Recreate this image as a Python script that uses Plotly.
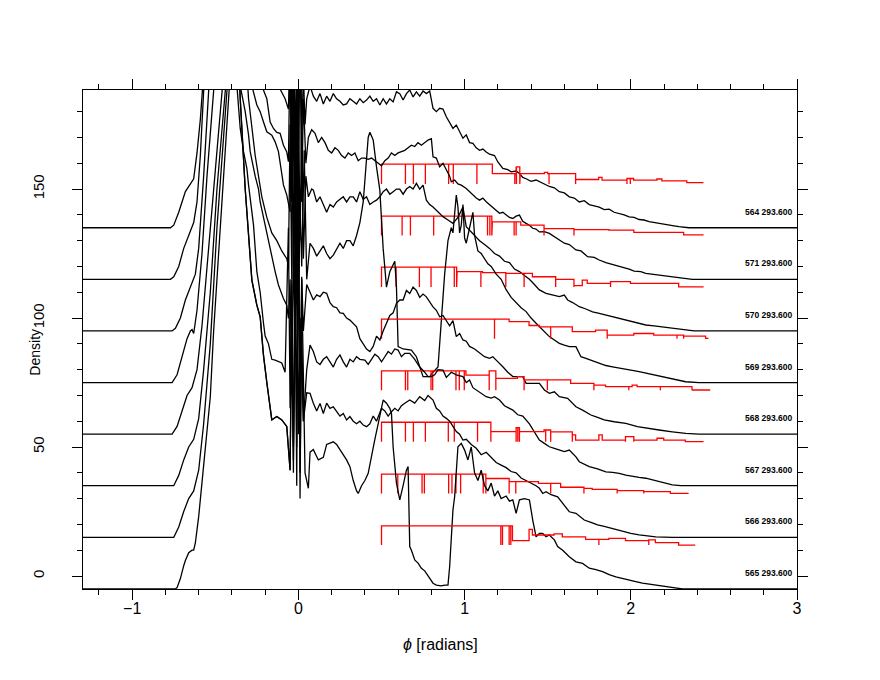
import plotly.graph_objects as go

# ---------------- data ----------------
RUNS = ["564", "571", "570", "569", "568", "567", "566", "565"]
OFFSETS = [135, 115, 95, 75, 55, 35, 15, -5]
TEMP_LABEL = "293.600"

X_TICKS = [-1, 0, 1, 2, 3]
X_TICKTEXT = ["\u22121", "0", "1", "2", "3"]
Y_TICKS = [0, 50, 100, 150]

# density of phi for each run (unshifted values); pairs of (phi, density)
DENS_564 = [(-1.30,0),(-0.77,0),(-0.75,1),(-0.72,6),(-0.68,14),(-0.66,16),(-0.63,19),(-0.61,29),(-0.59,42),(-0.57,60),(-0.52,110),(-0.45,190),(-0.40,230),
    (-0.34,190),(-0.28,120),(-0.22,80),(-0.16,62),(-0.12,55),(-0.08,50),(-0.06,46),
    (-0.05,70),(-0.04,20),(-0.03,90),(-0.02,25),(-0.01,80),(0.0,30),(0.01,100),(0.02,35),(0.03,60),(0.04,40),
    (0.05,50),(0.07,55),(0.09,51),(0.11,49),(0.13,52),(0.15,48),(0.17,51),(0.19,49),(0.21,52),(0.23,50),(0.25,49),(0.27,47.6),(0.29,48),(0.31,50),(0.33,49),(0.35,48),(0.37,50),(0.39,48.5),(0.41,49.5),(0.43,51),(0.45,49),(0.47,50),(0.49,47.6),(0.51,50),(0.53,48),(0.55,50),(0.57,48.8),(0.59,52.7),(0.61,52),(0.63,49.5),(0.65,52),(0.67,53.4),(0.69,50.7),(0.71,52.7),(0.73,51),(0.75,53),(0.77,52),(0.79,53),
    (0.81,46.3),(0.83,45),(0.85,46.3),(0.87,46),(0.89,43),(0.91,41),(0.93,38.5),(0.95,39.8),(0.97,37),(0.99,34.7),(1.01,36),(1.03,33),(1.05,32.7),(1.07,31),(1.09,30),(1.11,30.5),(1.13,29.4),(1.15,28.5),(1.18,28),(1.20,25.5),(1.23,23),(1.26,22.5),(1.28,21.7),(1.31,22),(1.33,21),(1.35,19.5),(1.37,19),(1.40,18),(1.43,18.5),(1.45,17.8),(1.48,17),(1.51,16),(1.54,15.5),(1.57,14),(1.60,13.5),(1.63,12),(1.66,11.5),(1.69,10),(1.72,10.5),(1.75,9),(1.78,8.5),(1.81,8),(1.84,7),(1.87,7.2),(1.90,6),(1.93,5.5),(1.96,5),(1.99,4.2),(2.02,4),(2.05,3.2),(2.08,3),(2.11,2.4),(2.14,2),(2.17,1.6),(2.20,1.3),(2.23,1),(2.26,0.7),(2.29,0.4),(2.32,0.2),(2.35,0),(3.00,0)]

DENS_571 = [(-1.30,0),(-0.77,0),(-0.75,1),(-0.72,5),(-0.69,12),(-0.66,17),(-0.63,22),(-0.61,30),(-0.59,48),(-0.57,73),(-0.52,130),(-0.45,200),(-0.40,230),
    (-0.30,160),(-0.26,110),(-0.22,75),(-0.19,70),(-0.17,61),(-0.15,58.5),(-0.13,57),(-0.11,56.6),(-0.09,52),(-0.07,49.4),(-0.06,45.6),
    (-0.05,90),(-0.04,30),(-0.03,100),(-0.02,20),(-0.01,75),(0.0,40),(0.01,95),(0.02,30),(0.03,70),(0.045,45),
    (0.06,55),(0.08,58),(0.10,56.6),(0.12,53),(0.14,55),(0.16,53),(0.18,50),(0.20,49),(0.22,51),(0.24,50),(0.26,48),(0.28,47),(0.30,49),(0.32,48),(0.34,49),(0.36,46),(0.38,47),(0.40,47),(0.42,46.5),(0.44,47),(0.46,46),(0.48,45),(0.50,44),(0.52,46),(0.54,47),(0.56,49),(0.58,48),(0.60,49),(0.62,49.5),(0.64,50),(0.66,51),(0.68,52),(0.70,51.5),(0.72,53),(0.74,52),(0.76,53),(0.78,54),(0.80,54.5),
    (0.81,47.5),(0.83,47),(0.85,43.6),(0.87,45),(0.89,42.3),(0.91,40),(0.92,37.8),(0.94,38.5),(0.96,37),(0.98,36.5),(1.01,35.2),(1.03,34),(1.05,32.7),(1.07,31.5),(1.09,30.7),(1.11,31.5),(1.13,30.1),(1.15,29),(1.18,27.5),(1.21,25.6),(1.23,26),(1.25,24.9),(1.27,24),(1.29,23.6),(1.31,24.5),(1.33,24.9),(1.35,22.5),(1.37,21.7),(1.39,21),(1.41,19.8),(1.43,19.5),(1.45,18.4),(1.48,18.5),(1.51,17.8),(1.54,16.5),(1.57,15.5),(1.60,14),(1.63,13.5),(1.67,11.4),(1.70,11),(1.74,8.8),(1.78,8.5),(1.81,7.5),(1.85,6.5),(1.88,6),(1.92,5.2),(1.95,4.9),(1.99,4),(2.02,3.2),(2.06,3),(2.09,2.3),(2.13,2),(2.17,1.5),(2.21,1.2),(2.25,1),(2.30,0.5),(2.37,0),(3.00,0)]

DENS_570 = [(-1.30,0),(-0.76,0),(-0.74,1),(-0.71,5),(-0.68,12),(-0.65,17),(-0.62,22),(-0.60,32),(-0.57,60),(-0.54,93),(-0.48,160),(-0.42,220),
    (-0.34,230),(-0.28,95),(-0.25,87.6),(-0.23,85),(-0.21,81),(-0.19,77.2),(-0.16,75.9),(-0.14,73.3),(-0.12,69.5),(-0.10,61.7),(-0.09,56.6),(-0.07,52.7),(-0.06,50),
    (-0.05,46.2),(-0.04,110),(-0.03,25),(-0.02,85),(-0.01,20),(0.00,90),(0.01,35),(0.02,80),(0.03,28),(0.045,60),
    (0.06,52),(0.08,55),(0.09,54.6),(0.11,50),(0.13,52),(0.15,49),(0.17,46),(0.19,49),(0.21,48),(0.23,50),(0.25,51),(0.27,52),(0.29,50),(0.31,52),(0.33,52),(0.35,50),(0.37,54),(0.39,51),(0.41,52),(0.43,49),(0.45,50),(0.47,50.7),(0.49,52),(0.51,54),(0.53,55),(0.55,53),(0.57,54),(0.59,55),(0.61,55),(0.63,53),(0.65,55),(0.67,56),(0.69,55),(0.71,57.2),(0.73,55),(0.75,56.5),
    (0.77,50.7),(0.79,49),(0.81,48),(0.84,46),(0.87,44.3),(0.90,43),(0.93,41.7),(0.96,44),(0.99,48),(1.01,40.4),(1.03,39),(1.06,37),(1.09,35),(1.12,33.5),(1.15,32),(1.18,30),(1.21,29),(1.24,27),(1.27,26.5),(1.30,24),(1.33,23),(1.36,21.5),(1.39,20),(1.42,18),(1.45,15.9),(1.49,14.6),(1.53,14),(1.57,13.3),(1.60,13.9),(1.62,12),(1.65,11),(1.69,9.4),(1.73,8.5),(1.77,7.4),(1.81,6.8),(1.85,6.2),(1.89,5.5),(1.93,4.9),(1.97,4.2),(2.01,3.6),(2.05,3),(2.09,2.3),(2.14,2),(2.19,1.6),(2.25,1),(2.29,0.6),(2.33,0.3),(2.38,0),(3.00,0)]

DENS_569 = [(-1.30,0),(-0.76,0),(-0.73,3),(-0.70,10),(-0.67,17),(-0.65,20),(-0.64,20.5),(-0.63,19),(-0.61,28),(-0.58,50),(-0.55,80),(-0.51,113),(-0.45,175),(-0.40,230),
    (-0.34,150),(-0.30,110),(-0.26,88),(-0.22,72),(-0.19,64),(-0.16,58),(-0.13,55),(-0.10,51),(-0.07,48),(-0.06,45),
    (-0.05,100),(-0.04,40),(-0.03,120),(-0.02,35),(-0.01,110),(0.00,25),(0.01,70),(0.02,45),(0.035,90),(0.05,40),
    (0.07,54),(0.09,52),(0.11,49),(0.13,51),(0.15,53),(0.17,50),(0.19,48),(0.21,49.4),(0.23,52),(0.25,54),(0.27,52),(0.29,55),(0.31,55),(0.33,53),(0.35,57),(0.37,62),(0.39,70),(0.41,88),(0.42,95),(0.43,97),(0.45,94),(0.47,83.6),(0.49,74.6),(0.51,52),(0.53,37),(0.55,43),(0.57,46),(0.58,47),(0.59,37),(0.60,13.9),(0.63,13),(0.66,12.6),(0.68,12.6),(0.71,10),(0.75,2.3),(0.79,2.3),(0.81,4),(0.84,6),(0.86,23),(0.88,42),(0.90,55),(0.92,60),(0.93,58),(0.95,72.7),(0.96,68),(0.97,58),(0.98,61),(0.99,69),(1.00,56),(1.01,54),(1.03,60),(1.05,66),(1.06,57),(1.08,51),
    (1.10,50),(1.12,48),(1.14,46),(1.16,45),(1.19,42),(1.22,40),(1.25,36),(1.28,33),(1.31,31),(1.34,29),(1.37,27.5),(1.40,25),(1.43,23),(1.45,21.6),(1.48,19.5),(1.51,17.8),(1.54,16.5),(1.57,15.2),(1.60,14.5),(1.63,13.9),(1.67,13.9),(1.70,10),(1.73,9.4),(1.77,8.5),(1.81,7.4),(1.85,6.6),(1.89,6.1),(1.95,5.5),(2.00,4.8),(2.05,4.2),(2.10,3.5),(2.15,2.9),(2.20,2.2),(2.25,1.6),(2.30,0.8),(2.33,0.3),(2.41,0),(3.00,0)]

DENS_568 = [(-1.30,0),(-0.76,0),(-0.73,3),(-0.70,9),(-0.67,15),(-0.64,18),(-0.61,25),(-0.58,42),(-0.55,65),(-0.51,95),(-0.46,133),(-0.40,190),(-0.37,200),
    (-0.35,135),(-0.32,125),(-0.30,116),(-0.29,109.5),(-0.26,100),(-0.24,95),(-0.23,90),(-0.21,83.6),(-0.19,78.4),(-0.17,72),(-0.14,63),(-0.12,57.8),(-0.09,52.6),(-0.07,50),(-0.06,44.9),
    (-0.05,60),(-0.04,15),(-0.03,75),(-0.02,30),(-0.01,130),(0.00,55.8),(0.01,20),(0.02,61),(0.03,40),(0.05,58),
    (0.07,54.6),(0.09,52),(0.11,54),(0.13,53.3),(0.15,55),(0.17,54.6),(0.19,51),(0.21,49.4),(0.23,49),(0.25,47),(0.27,46.8),(0.29,45),(0.31,44.2),(0.33,43),(0.35,41.6),(0.37,37),(0.39,35),(0.41,33),(0.43,32),(0.45,34),(0.47,38),(0.49,36.5),(0.51,40),(0.53,43),(0.55,46),(0.57,47),(0.59,50.7),(0.61,52),(0.63,52),(0.65,55.7),(0.67,54.5),(0.69,57),(0.71,55.7),(0.73,53),(0.75,54.3),(0.77,53.2),(0.79,51),(0.81,49.3),(0.83,48),(0.85,45.5),(0.87,46),(0.89,44.2),(0.91,42),(0.93,44),(0.95,37.8),(0.97,39),(0.99,36.5),
    (1.01,36),(1.03,34),(1.06,33),(1.09,31.4),(1.12,30),(1.15,29.4),(1.17,30),(1.19,28.7),(1.21,27.5),(1.23,26.1),(1.26,24),(1.29,22.3),(1.32,22.3),(1.35,22.3),(1.37,19.7),(1.40,19.7),(1.43,19.7),(1.45,19.7),(1.48,17.1),(1.51,15.8),(1.54,16.4),(1.57,14.5),(1.62,13.9),(1.65,12),(1.67,10.6),(1.71,9.3),(1.76,7.4),(1.80,6.5),(1.84,5.5),(1.90,4.8),(1.97,4.2),(2.04,2.9),(2.10,2.2),(2.17,1.6),(2.25,0.9),(2.33,0.3),(2.41,0),(3.00,0)]

DENS_567 = [(-1.30,0),(-0.75,0),(-0.72,4),(-0.69,10),(-0.66,15),(-0.63,18),(-0.60,26),(-0.57,45),(-0.53,75),(-0.49,115),(-0.44,153),(-0.40,185),(-0.38,210),
    (-0.37,155),(-0.35,138.5),(-0.33,129.5),(-0.31,123),(-0.30,116.6),(-0.27,101),(-0.25,83),(-0.23,75),(-0.21,63),(-0.20,58),(-0.18,55),(-0.16,49),(-0.14,48.7),(-0.12,48),(-0.10,47.6),(-0.08,44),
    (-0.06,100),(-0.05,30),(-0.04,80),(-0.03,15),(-0.02,60),(-0.01,90),(0.00,20),(0.01,65),(0.03,25),(0.05,45),
    (0.07,54.5),(0.09,52),(0.11,48),(0.13,47),(0.15,49),(0.17,50),(0.19,48),(0.21,46),(0.23,49),(0.25,50.7),(0.27,48),(0.29,46),(0.31,49),(0.33,48),(0.35,50),(0.37,49),(0.40,48.7),(0.42,47),(0.44,49),(0.46,51),(0.48,50),(0.50,48),(0.52,50),(0.54,52),(0.56,51),(0.58,53),(0.60,52.6),(0.62,50),(0.64,51.3),(0.67,51.3),(0.70,49),(0.73,46),(0.76,44),(0.78,42.3),(0.80,42.3),(0.82,43),(0.84,45),(0.87,44.8),(0.89,42),(0.92,44),(0.95,43),(0.99,42.3),
    (1.01,40),(1.03,41),(1.05,38),(1.07,37.1),(1.10,36),(1.13,34.5),(1.16,34),(1.18,34.5),(1.21,33.2),(1.24,31),(1.27,30),(1.29,29.3),(1.32,27.5),(1.35,27),(1.39,24),(1.42,21),(1.45,17.7),(1.48,16.4),(1.51,15.1),(1.54,14.5),(1.57,13.8),(1.60,13.2),(1.63,13.8),(1.67,11.2),(1.69,9.3),(1.72,8.5),(1.75,7.4),(1.80,6.5),(1.85,5.4),(1.89,5.2),(1.93,4.8),(1.97,4.1),(2.01,3.5),(2.05,3.2),(2.09,2.9),(2.13,2.2),(2.17,1.6),(2.21,1),(2.25,0.3),(2.30,0),(3.00,0)]

DENS_566 = [(-1.30,0),(-0.75,0),(-0.72,4),(-0.69,10),(-0.66,15),(-0.63,18),(-0.60,26),(-0.57,44),(-0.53,75),(-0.49,120),(-0.43,173),(-0.40,200),(-0.37,215),
    (-0.35,170),(-0.32,135),(-0.28,99.7),(-0.25,90),(-0.23,85.5),(-0.21,70.5),(-0.19,60),(-0.17,50.6),(-0.16,45.5),(-0.13,46.8),(-0.10,45.5),(-0.07,43),(-0.05,26),
    (-0.04,90),(-0.03,30),(-0.02,110),(-0.01,35),(0.00,150),(0.01,25),(0.02,80),(0.03,45),(0.05,56),
    (0.07,55.8),(0.09,52),(0.11,49),(0.13,51.9),(0.15,48),(0.17,52),(0.19,50),(0.21,50.6),(0.23,49),(0.25,47),(0.27,48),(0.29,45.5),(0.31,46.8),(0.33,45),(0.35,44),(0.37,45),(0.39,43.5),(0.41,42.9),(0.43,44),(0.45,47),(0.47,45),(0.49,48),(0.50,50),(0.52,49),(0.54,47),(0.56,48.7),(0.58,50),(0.60,49),(0.62,51),(0.64,52),(0.67,53.2),(0.70,52),(0.73,54.5),(0.76,53),(0.78,55),(0.81,53.2),(0.83,50),(0.85,49),(0.87,47),(0.89,46.1),(0.91,45),(0.93,43),(0.95,41),(0.97,40),(0.99,37.7),
    (1.01,38),(1.04,36),(1.07,34.5),(1.10,32),(1.13,33),(1.16,31),(1.19,29),(1.22,28),(1.25,27),(1.28,25.5),(1.31,25),(1.34,23),(1.37,22),(1.40,21),(1.43,20),(1.45,19),(1.47,17),(1.49,17.7),(1.52,16.5),(1.56,15.7),(1.59,13.2),(1.63,9.9),(1.67,9.3),(1.72,6.7),(1.76,5.8),(1.80,4.8),(1.84,4.2),(1.88,3.5),(1.92,2.8),(1.96,2.2),(2.00,1.5),(2.05,0.9),(2.10,0.6),(2.15,0.2),(2.25,0),(3.00,0)]

DENS_565 = [(-1.30,0),(-0.74,0),(-0.73,0.5),(-0.71,4),(-0.69,9),(-0.68,11),(-0.66,14),(-0.64,15),(-0.63,15),(-0.62,17.8),(-0.60,28),(-0.57,48.8),(-0.53,74.5),(-0.51,100),(-0.46,150),(-0.42,193),(-0.38,230),
    (-0.35,190),(-0.32,155),(-0.28,119.7),(-0.25,110),(-0.23,105.5),(-0.21,90.5),(-0.19,80),(-0.17,70.6),(-0.16,65.5),(-0.13,66.8),(-0.10,65.5),(-0.07,63),(-0.05,46),
    (-0.04,100),(-0.03,45),(-0.02,130),(-0.01,40),(0.00,160),(0.01,35),(0.02,120),(0.04,45),(0.06,39),
    (0.07,53),(0.09,54),(0.12,50),(0.15,51),(0.17,56),(0.21,57),(0.23,56),(0.25,54),(0.27,52),(0.29,50),(0.31,47.4),(0.33,42),(0.35,38),(0.36,37),(0.38,40),(0.40,42),(0.42,44.8),(0.44,52),(0.46,58),(0.48,64),(0.51,73.2),(0.53,72),(0.55,70),(0.56,68),(0.57,55),(0.59,41),(0.61,34.5),(0.63,40),(0.65,46),(0.66,47.4),(0.67,16.4),(0.68,15),(0.70,11.2),(0.72,10),(0.74,8),(0.76,7),(0.78,5),(0.81,2.2),(0.83,1.5),(0.86,1.2),(0.88,1.5),(0.90,1.5),(0.91,8.6),(0.93,30.6),(0.94,35.7),(0.95,44),(0.96,55.1),(0.98,56.4),(1.00,53.8),(1.02,50),(1.04,55),(1.06,45),(1.08,42),(1.10,46),(1.12,40),(1.14,38),(1.16,41),(1.18,36),(1.20,38),(1.22,35),(1.25,36),(1.27,34),(1.29,34.5),(1.31,29.3),(1.33,34.5),(1.36,35),(1.39,34.5),
    (1.41,26.7),(1.43,20.2),(1.45,21.5),(1.47,21.5),(1.49,20.2),(1.51,20.9),(1.54,19),(1.56,16.4),(1.59,15),(1.63,12.5),(1.67,10.5),(1.71,9.9),(1.75,8),(1.79,7.5),(1.83,6.7),(1.87,5.5),(1.91,4.7),(1.95,4),(1.99,3.4),(2.03,2.8),(2.07,2.2),(2.11,1.8),(2.15,1.5),(2.19,1),(2.23,0.6),(2.27,0.3),(2.31,0),(3.00,0)]

DENSITIES = [DENS_564, DENS_571, DENS_570, DENS_569, DENS_568, DENS_567, DENS_566, DENS_565]

# red step traces: (phi where level starts, level), spike positions, end of trace
RED_FLOOR = 17.0
RED_STEPS_564 = [(0.50,24.7),(1.167,21.0),(1.31,23.6),(1.335,21.0),(1.48,21.5),(1.50,21.0),(1.668,18.7),(1.807,19.5),(1.827,18.5),(1.977,19.1),(2.017,18.5),(2.157,18.9),(2.187,18.2),(2.337,17.5)]
RED_SPIKES_564 = [0.644,0.692,0.764,0.904,0.932,1.074,1.302,1.312,1.332,1.508,1.668,1.977,1.997]
RED_END_564 = 2.437
RED_STEPS_571 = [(0.50,24.5),(1.167,22.3),(1.338,21.0),(1.478,19.7),(1.658,19.3),(1.868,19.1),(2.018,18.2),(2.318,17.2)]
RED_SPIKES_571 = [0.624,0.674,0.814,1.138,1.152,1.164,1.298,1.31,1.478,1.658]
RED_END_571 = 2.438
RED_STEPS_570 = [(0.50,24.7),(0.955,23.0),(1.108,22.6),(1.248,22.3),(1.408,21.0),(1.548,20.0),(1.658,17.6),(1.708,19.7),(1.738,18.4),(1.878,19.1),(1.998,18.4),(2.288,17.1)]
RED_SPIKES_570 = [0.588,0.728,0.798,0.938,0.952,1.098,1.248,1.358,1.548,1.658,1.878]
RED_END_570 = 2.438
RED_STEPS_569 = [(0.50,24.6),(1.268,23.6),(1.388,22.1),(1.45,21.6),(1.648,19.7),(1.788,20.3),(1.858,18.4),(2.018,19.0),(2.138,18.4),(2.318,18.0),(2.45,17.1)]
RED_SPIKES_569 = [1.18,1.518,1.858,2.278,2.318]
RED_END_569 = 2.468
RED_STEPS_568 = [(0.50,24.5),(1.008,22.9),(1.148,24.5),(1.188,21.6),(1.318,22.3),(1.358,21.0),(1.638,19.7),(1.778,19.0),(1.848,18.4),(2.008,19.0),(2.038,18.4),(2.368,17.1)]
RED_SPIKES_568 = [0.644,0.658,0.798,0.808,0.948,0.968,0.998,1.148,1.188,1.358,1.498,1.778,1.988,2.178,2.368]
RED_END_568 = 2.478
RED_STEPS_567 = [(0.50,24.6),(1.158,21.0),(1.31,22.5),(1.33,21.0),(1.478,21.6),(1.518,20.9),(1.648,19.7),(1.668,17.7),(1.808,19.7),(1.828,17.7),(1.968,19.0),(2.018,17.7),(2.158,18.4),(2.198,17.7),(2.328,17.1)]
RED_SPIKES_567 = [0.644,0.692,0.764,0.902,0.938,1.078,1.158,1.31,1.32,1.33,1.488,1.518,1.648,1.968,2.018]
RED_END_567 = 2.438
RED_STEPS_566 = [(0.50,24.5),(1.128,22.8),(1.268,21.6),(1.444,20.9),(1.578,19.4),(1.718,19.0),(1.768,18.6),(1.918,18.1),(2.078,17.7),(2.238,17.0)]
RED_SPIKES_566 = [0.598,0.744,0.758,0.904,0.924,0.948,0.976,1.112,1.128,1.268,1.308,1.518,1.718,1.918,2.078]
RED_END_566 = 2.348
RED_STEPS_565 = [(0.50,24.4),(1.288,18.7),(1.388,23.1),(1.408,20.9),(1.538,21.3),(1.588,20.2),(1.728,19.2),(1.868,19.6),(1.968,18.7),(2.108,19.0),(2.148,17.9),(2.288,17.0)]
RED_SPIKES_565 = [1.218,1.228,1.268,1.278,1.808,2.108]
RED_END_565 = 2.388

RED_STEPS = [RED_STEPS_564, RED_STEPS_571, RED_STEPS_570, RED_STEPS_569, RED_STEPS_568, RED_STEPS_567, RED_STEPS_566, RED_STEPS_565]
RED_SPIKES = [RED_SPIKES_564, RED_SPIKES_571, RED_SPIKES_570, RED_SPIKES_569, RED_SPIKES_568, RED_SPIKES_567, RED_SPIKES_566, RED_SPIKES_565]
RED_ENDS = [RED_END_564, RED_END_571, RED_END_570, RED_END_569, RED_END_568, RED_END_567, RED_END_566, RED_END_565]


def red_path(steps, spikes, end, base):
    xs, ys = [steps[0][0], steps[0][0]], [base + RED_FLOOR, base + steps[0][1]]
    level = steps[0][1]
    step_map = {round(x, 4): l for x, l in steps[1:]}
    spike_set = set(round(s, 4) for s in spikes)
    for bp in sorted(set(step_map) | spike_set):
        xs.append(bp); ys.append(base + level)
        if bp in spike_set:
            xs += [bp, bp]; ys += [base + RED_FLOOR, base + level]
        if bp in step_map:
            level = step_map[bp]
            xs.append(bp); ys.append(base + level)
    xs.append(end); ys.append(base + level)
    return xs, ys


fig = go.Figure()
for run, off, dens, st, sp, en in zip(RUNS, OFFSETS, DENSITIES, RED_STEPS, RED_SPIKES, RED_ENDS):
    fig.add_trace(go.Scatter(x=[p[0] for p in dens], y=[p[1] + off for p in dens], mode="lines",
                             line=dict(color="black", width=1.3), showlegend=False, hoverinfo="skip"))
    rx, ry = red_path(st, sp, en, off)
    fig.add_trace(go.Scatter(x=rx, y=ry, mode="lines", line=dict(color="#ff0000", width=1.3),
                             showlegend=False, hoverinfo="skip"))
    fig.add_annotation(x=2.99, y=off + 6.2, xref="x", yref="y", text=f"<b>{run} {TEMP_LABEL}</b>",
                       showarrow=False, xanchor="right", yanchor="middle",
                       font=dict(family="Liberation Sans, Arial", size=8.5, color="black"))

axis_common = dict(showline=True, linecolor="black", linewidth=1.3, mirror="allticks", ticks="outside",
                   ticklen=10, tickwidth=1.2, tickcolor="black", showgrid=False, zeroline=False,
                   automargin=False)

fig.update_xaxes(range=[-1.296, 3.0], tickvals=X_TICKS, ticktext=X_TICKTEXT, ticklabelstandoff=-5,
                 tickfont=dict(family="Liberation Sans, Arial", size=16, color="black"),
                 minor=dict(ticks="outside", ticklen=5, dtick=0.2, tick0=0, tickwidth=1.2, tickcolor="black"),
                 **axis_common)
fig.update_yaxes(range=[-5.04, 188.4], tickvals=Y_TICKS, tickangle=-90, ticklabelstandoff=22,
                 tickfont=dict(family="Liberation Sans, Arial", size=15, color="black"),
                 minor=dict(ticks="outside", ticklen=5, dtick=10, tick0=0, tickwidth=1.2, tickcolor="black"),
                 **axis_common)

fig.add_annotation(x=-0.067, y=0.474, xref="paper", yref="paper", text="Density", textangle=-90,
                   xanchor="center", yanchor="middle",
                   showarrow=False, font=dict(family="Liberation Sans, Arial", size=14, color="black"))
fig.add_annotation(x=0.5, y=-0.112, xref="paper", yref="paper", text="<i>\u03d5</i> [radians]",
                   xanchor="center", yanchor="middle",
                   showarrow=False, font=dict(family="Liberation Sans, Arial", size=16, color="black"))

# the page body adds an 8px offset, so the margins are shifted to place the frame as in the reference
fig.update_layout(width=880, height=680, margin=dict(l=75, r=91, t=82, b=99),
                  plot_bgcolor="white", paper_bgcolor="white", showlegend=False)

fig.write_html("out.html")
